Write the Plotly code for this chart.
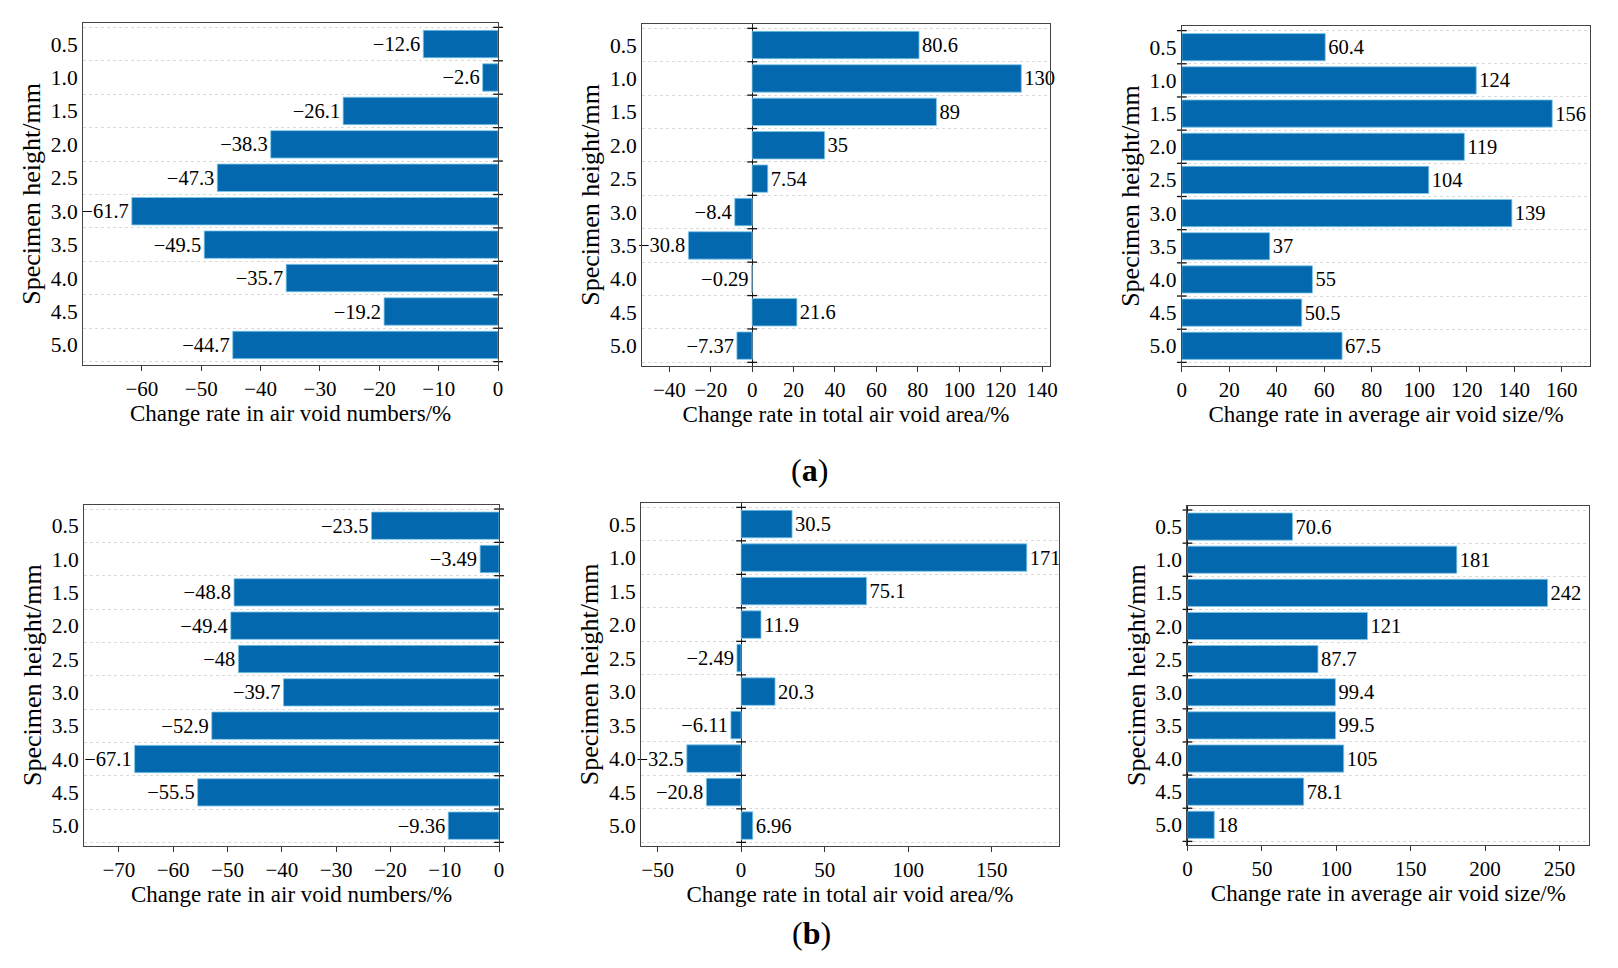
import plotly.graph_objects as go

heights = ["0.5", "1.0", "1.5", "2.0", "2.5", "3.0", "3.5", "4.0", "4.5", "5.0"]

a_numbers = [-12.6, -2.6, -26.1, -38.3, -47.3, -61.7, -49.5, -35.7, -19.2, -44.7]
a_area = [80.6, 130, 89, 35, 7.54, -8.4, -30.8, -0.29, 21.6, -7.37]
a_size = [60.4, 124, 156, 119, 104, 139, 37, 55, 50.5, 67.5]

b_numbers = [-23.5, -3.49, -48.8, -49.4, -48, -39.7, -52.9, -67.1, -55.5, -9.36]
b_area = [30.5, 171, 75.1, 11.9, -2.49, 20.3, -6.11, -32.5, -20.8, 6.96]
b_size = [70.6, 181, 242, 121, 87.7, 99.4, 99.5, 105, 78.1, 18]

x_titles = ["Change rate in air void numbers/%",
            "Change rate in total air void area/%",
            "Change rate in average air void size/%"]
y_title = "Specimen height/mm"

W, H = 1618, 968
FONT = "Liberation Serif"
BAR = "#0368ae"
EDGE = "#7cc8ea"

# panel pixel boxes: (left, top, right, bottom), x range, dtick
panels = [
    (a_numbers, (70.7, 15, 489, 357), [-69.9, 0], 10, 0),
    (a_area, (634.3, 16, 1045.3, 357.7), [-53.1, 143.8], 20, 1),
    (a_size, (1178.3, 18.3, 1590, 357.7), [0, 172], 20, 2),
    (b_numbers, (71.7, 496.7, 490, 837.7), [-76.4, 0], 10, 0),
    (b_area, (633.3, 495, 1054, 837.7), [-59.8, 190], 50, 1),
    (b_size, (1184, 497.7, 1589, 836.7), [0, 270], 50, 2),
]

def fmt(v):
    return f"{v:g}".replace("-", "\u2212")

fig = go.Figure()
n = len(heights)
ypos = list(range(n))
bounds = [i - 0.5 for i in range(n + 1)]

for k, (vals, box, xr, dt, col) in enumerate(panels, start=1):
    xa = "x" if k == 1 else f"x{k}"
    ya = "y" if k == 1 else f"y{k}"
    fig.add_trace(go.Bar(
        x=vals, y=ypos, orientation="h", xaxis=xa, yaxis=ya,
        marker=dict(color=BAR, line=dict(color=EDGE, width=0.8)),
        width=0.82, text=[fmt(v) for v in vals], textposition="outside",
        textfont=dict(family=FONT, size=20.5, color="black"),
        cliponaxis=False, showlegend=False,
    ))
    fig.add_trace(go.Scatter(
        x=[0] * len(bounds), y=bounds, mode="markers", xaxis=xa, yaxis=ya,
        marker=dict(symbol="line-ew", size=7, line=dict(color="#111", width=1.3)),
        cliponaxis=False, showlegend=False, hoverinfo="skip",
    ))
    l, t, r, b = box
    xkey = "xaxis" if k == 1 else f"xaxis{k}"
    ykey = "yaxis" if k == 1 else f"yaxis{k}"
    fig.update_layout({
        xkey: dict(
            domain=[l / W, r / W], anchor=ya, range=xr, dtick=dt,
            showgrid=False, zeroline=True, zerolinecolor="#222", zerolinewidth=1.2,
            showline=True, mirror=True, linecolor="#444", linewidth=1.3,
            ticks="outside", ticklen=5, tickcolor="#333",
            tickfont=dict(family=FONT, size=21, color="black"),
            title=dict(text=x_titles[col], font=dict(family=FONT, size=23, color="black"), standoff=2),
        ),
        ykey: dict(
            domain=[1 - b / H, 1 - t / H], anchor=xa, range=[9.6, -0.63],
            tickvals=ypos, ticktext=heights, ticks="",
            showgrid=False, zeroline=False,
            showline=True, mirror=True, linecolor="#444", linewidth=1.3,
            minor=dict(tickvals=bounds, showgrid=True, gridcolor="#d9d9d9",
                       griddash="dot", gridwidth=1, ticks=""),
            tickfont=dict(family=FONT, size=21.5, color="black"),
            title=dict(text=y_title, font=dict(family=FONT, size=26, color="black"), standoff=2),
        ),
    })

fig.add_annotation(text="(<b>a</b>)", x=803 / W, y=1 - 462 / H, xref="paper", yref="paper",
                   showarrow=False, font=dict(family=FONT, size=32, color="black"))
fig.add_annotation(text="(<b>b</b>)", x=805 / W, y=1 - 945 / H, xref="paper", yref="paper",
                   showarrow=False, font=dict(family=FONT, size=32, color="black"))

fig.update_layout(width=W, height=H, margin=dict(l=0, r=0, t=0, b=0),
                  plot_bgcolor="white", paper_bgcolor="white", bargap=0.18)

fig.write_html("out.html")
